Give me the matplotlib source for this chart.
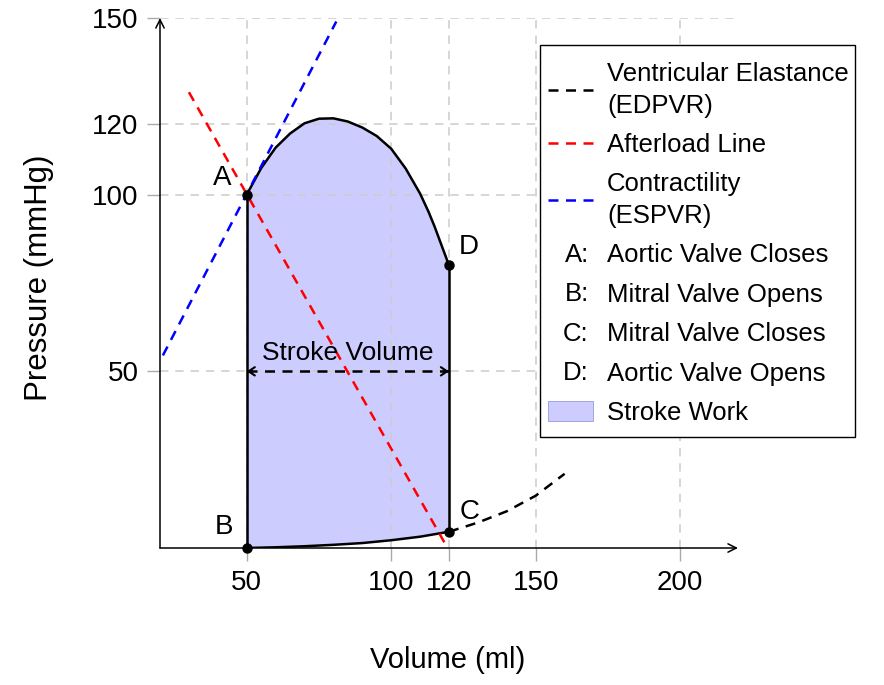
import matplotlib
matplotlib.use("Agg")
import matplotlib.pyplot as plt
import matplotlib.text as mtext
from matplotlib.legend_handler import HandlerBase
from matplotlib.lines import Line2D
from matplotlib.patches import Patch, Rectangle

plt.rcParams["font.family"] = ["Liberation Sans", "DejaVu Sans"]

# ── data ───────────────────────────────────────────────────────────────────────
# ejection curve A -> D (volume ml, pressure mmHg)
eject_v = [50, 55, 60, 65, 70, 75, 80, 85, 90, 95, 100, 105, 110, 113, 115, 117.5, 120]
eject_p = [100, 107.5, 113.3, 117.3, 120.2, 121.5, 121.6, 120.7, 119.0, 116.6, 113.0,
           107.4, 100.3, 95.0, 91.0, 85.5, 80]

# filling curve B -> C
fill_v = [50, 60, 70, 80, 90, 100, 110, 120]
fill_p = [0, 0.2, 0.5, 0.9, 1.4, 2.2, 3.2, 4.6]

# EDPVR continuation beyond C
edpvr_v = [120, 130, 140, 150, 160]
edpvr_p = [4.6, 7.2, 10.4, 14.8, 21.0]

afterload_v = [30, 119.5]
afterload_p = [129, 0]

espvr_v = [21, 81]
espvr_p = [54.5, 149]

point_names = ["A", "B", "C", "D"]
point_v = [50, 50, 120, 120]
point_p = [100, 0, 4.6, 80]
point_desc = ["Aortic Valve Closes", "Mitral Valve Opens",
              "Mitral Valve Closes", "Aortic Valve Opens"]

stroke_volume = [50, 120]   # ml, arrow drawn at 50 mmHg

x_ticks = [50, 100, 120, 150, 200]
y_ticks = [50, 100, 120, 150]

FILL = (0, 0, 1, 0.2)
DASH = (0, (4, 3))


class LetterKey:
    def __init__(self, text):
        self.text = text


class LetterHandler(HandlerBase):
    def create_artists(self, legend, orig_handle, xdescent, ydescent,
                       width, height, fontsize, trans):
        t = mtext.Text(width - xdescent - 3, height / 2 - ydescent + 0.8, orig_handle.text,
                       ha="right", va="center_baseline", fontsize=fontsize,
                       transform=trans)
        return [t]


fig = plt.figure(figsize=(8.84, 6.85), dpi=100)
ax = fig.add_axes([160 / 884, 137 / 685, 578 / 884, 530 / 685])
ax.set_xlim(20, 220)
ax.set_ylim(0, 150)

# grid + ticks
ax.set_xticks(x_ticks)
ax.set_yticks(y_ticks)
ax.grid(True, color="#cccccc", linestyle=(0, (5.5, 4.5)), linewidth=1.1)
ax.tick_params(direction="out", length=9.5, width=1, color="#aaaaaa",
               labelsize=20, pad=6)
for s in ax.spines.values():
    s.set_visible(False)

# axes with arrow heads
arrow_kw = dict(arrowstyle="->, head_length=0.6, head_width=0.3", color="black",
                lw=1.1, shrinkA=0, shrinkB=0)
ax.annotate("", xy=(1, 0), xytext=(0, 0), xycoords="axes fraction",
            arrowprops=arrow_kw, annotation_clip=False)
ax.annotate("", xy=(0, 1), xytext=(0, 0), xycoords="axes fraction",
            arrowprops=arrow_kw, annotation_clip=False)

# stroke work loop
loop_v = eject_v + fill_v[::-1]
loop_p = eject_p + fill_p[::-1]
ax.fill(loop_v, loop_p, color=FILL, linewidth=0)
ax.plot(eject_v, eject_p, color="black", lw=1.8)
ax.plot(fill_v, fill_p, color="black", lw=1.8)
ax.plot([point_v[0], point_v[1]], [point_p[0], point_p[1]], color="black", lw=1.8)
ax.plot([point_v[2], point_v[3]], [point_p[2], point_p[3]], color="black", lw=1.8)

# reference lines
ax.plot(edpvr_v, edpvr_p, color="black", lw=1.8, linestyle=DASH)
ax.plot(afterload_v, afterload_p, color="red", lw=1.8, linestyle=DASH)
ax.plot(espvr_v, espvr_p, color="blue", lw=1.8, linestyle=DASH)

# points + letters
ax.plot(point_v, point_p, "o", color="black", markersize=6.5, clip_on=False, zorder=5)
offsets = {"A": (-8.5, 4.8), "B": (-8, 6), "C": (7, 5.5), "D": (7, 5.2)}
for name, v, p in zip(point_names, point_v, point_p):
    dx, dy = offsets[name]
    ax.text(v + dx, p + dy, name, fontsize=20, ha="center", va="center")

# stroke volume arrow
ax.plot(stroke_volume, [50, 50], color="black", lw=1.8, linestyle=DASH)
head_kw = dict(arrowstyle="->, head_length=0.45, head_width=0.3", color="black",
               lw=1.5, shrinkA=0, shrinkB=0)
ax.annotate("", xy=(stroke_volume[0], 50), xytext=(stroke_volume[0] + 2, 50),
            arrowprops=head_kw)
ax.annotate("", xy=(stroke_volume[1], 50), xytext=(stroke_volume[1] - 2, 50),
            arrowprops=head_kw)
ax.text(sum(stroke_volume) / 2, 55.2, "Stroke Volume", fontsize=19,
        ha="center", va="center")

# axis labels
fig.text(448 / 884, 1 - 660 / 685, "Volume (ml)", fontsize=21, ha="center", va="center")
fig.text(39 / 884, 1 - 278 / 685, "Pressure (mmHg)", fontsize=22.5, ha="center",
         va="center", rotation=90)

# legend box drawn separately so the inner padding can match
fig.add_artist(Rectangle((540 / 884, 1 - 437 / 685), 315 / 884, 392 / 685,
                         transform=fig.transFigure, facecolor="white",
                         edgecolor="black", lw=1.0, zorder=4))

handles = [
    Line2D([], [], color="black", lw=1.8, linestyle=DASH),
    Line2D([], [], color="red", lw=1.8, linestyle=DASH),
    Line2D([], [], color="blue", lw=1.8, linestyle=DASH),
] + [LetterKey(n + ":") for n in point_names] + [
    Patch(facecolor=FILL, edgecolor=(0.6, 0.6, 0.85), lw=0.6),
]
labels = ["Ventricular Elastance\n(EDPVR)", "Afterload Line",
          "Contractility\n(ESPVR)"] + point_desc + ["Stroke Work"]
leg = fig.legend(handles, labels, loc="upper left",
                 bbox_to_anchor=(548 / 884, 1 - 62 / 685), borderaxespad=0,
                 fontsize=18.5, handlelength=1.75, handletextpad=0.55,
                 labelspacing=0.6, borderpad=0, frameon=False,
                 handleheight=0.8, handler_map={LetterKey: LetterHandler()})
leg.set_zorder(5)
for t in leg.get_texts():
    t.set_linespacing(1.4)

fig.savefig("out.png", dpi=100)
